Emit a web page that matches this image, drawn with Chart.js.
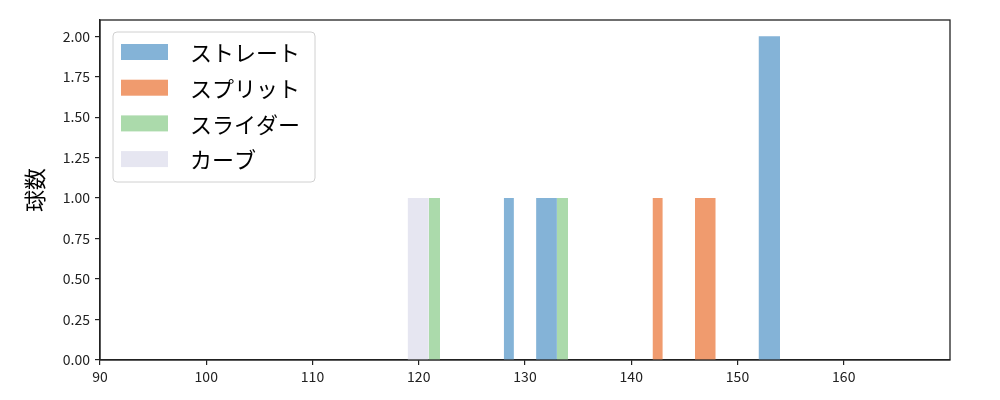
<!DOCTYPE html>
<html>
<head>
<meta charset="utf-8">
<script src="https://cdn.jsdelivr.net/npm/chart.js@4"></script>
<style>
  html, body { margin: 0; padding: 0; background: #fff; }
  #wrap { width: 1000px; height: 400px; }
</style>
</head>
<body>
<div id="wrap"><canvas id="chart" width="1000" height="400"></canvas></div>
<script>
const FONT = '"Noto Sans CJK JP", "Noto Sans", sans-serif';

// histogram bins: left edge, right edge, count
const pitchNames = ['ストレート', 'スプリット', 'スライダー', 'カーブ'];
const straightLo = [128.0, 131.05, 152.0];
const straightHi = [128.95, 133.0, 154.0];
const straightCount = [1, 1, 2];
const splitLo = [142.0, 146.0];
const splitHi = [142.95, 147.95];
const splitCount = [1, 1];
const sliderLo = [120.95, 133.0];
const sliderHi = [122.0, 134.05];
const sliderCount = [1, 1];
const curveLo = [118.95];
const curveHi = [120.95];
const curveCount = [1];
const colors = ['#84b3d7', '#f09b6e', '#abdaab', '#e6e6f1'];

const xTicks = [90, 100, 110, 120, 130, 140, 150, 160];
const yTicks = [0, 0.25, 0.5, 0.75, 1.0, 1.25, 1.5, 1.75, 2.0];

function outline(lo, hi, counts) {
  let pts = [];
  for (let i = 0; i < lo.length; i++) {
    pts.push({x: lo[i], y: 0}, {x: lo[i], y: counts[i]}, {x: hi[i], y: counts[i]}, {x: hi[i], y: 0});
  }
  return pts;
}

const series = [
  outline(straightLo, straightHi, straightCount),
  outline(splitLo, splitHi, splitCount),
  outline(sliderLo, sliderHi, sliderCount),
  outline(curveLo, curveHi, curveCount)
];

const datasets = series.map((pts, i) => ({
  label: pitchNames[i],
  data: pts,
  showLine: true,
  fill: 'origin',
  backgroundColor: colors[i],
  borderColor: 'transparent',
  borderWidth: 0,
  pointRadius: 0,
  tension: 0
}));

// frame round the plot and a matplotlib-like legend box
const framePlugin = {
  id: 'frame',
  afterDraw(chart) {
    const c = chart.ctx;
    const a = chart.chartArea;
    c.save();
    c.strokeStyle = '#222';
    c.lineWidth = 1.3;
    c.strokeRect(a.left, a.top, a.right - a.left, a.bottom - a.top);

    // legend
    const lx = 113, ly = 32, lw = 202, lh = 150, r = 4;
    c.beginPath();
    c.moveTo(lx + r, ly);
    c.arcTo(lx + lw, ly, lx + lw, ly + lh, r);
    c.arcTo(lx + lw, ly + lh, lx, ly + lh, r);
    c.arcTo(lx, ly + lh, lx, ly, r);
    c.arcTo(lx, ly, lx + lw, ly, r);
    c.closePath();
    c.fillStyle = 'rgba(255,255,255,0.8)';
    c.fill();
    c.strokeStyle = '#d0d0d0';
    c.lineWidth = 1;
    c.stroke();

    c.font = '22px ' + FONT;
    c.textBaseline = 'middle';
    c.textAlign = 'left';
    pitchNames.forEach((name, i) => {
      const cy = 52 + i * 35.7;
      c.fillStyle = colors[i];
      c.fillRect(121, cy - 8, 47, 16);
      c.fillStyle = '#000';
      c.fillText(name, 190, cy + 1);
    });
    c.restore();
  }
};

const ctx = document.getElementById('chart').getContext('2d');

new Chart(ctx, {
  type: 'scatter',
  data: { datasets: datasets },
  options: {
    responsive: false,
    animation: false,
    events: [],
    layout: { padding: { left: 0, right: 50, top: 20, bottom: 0 } },
    plugins: {
      legend: { display: false },
      tooltip: { enabled: false }
    },
    scales: {
      x: {
        type: 'linear',
        min: 90,
        max: 170,
        afterBuildTicks: (scale) => { scale.ticks = xTicks.map(v => ({value: v})); },
        afterFit: (scale) => { scale.height = 40; },
        grid: { drawOnChartArea: false, drawTicks: true, tickLength: 5, color: '#222', lineWidth: 1.2 },
        border: { display: true, color: '#222', width: 1.3 },
        ticks: { color: '#222', font: { family: FONT, size: 14 }, padding: 3, maxRotation: 0 }
      },
      y: {
        min: 0,
        max: 2.1,
        afterBuildTicks: (scale) => { scale.ticks = yTicks.map(v => ({value: v})); },
        afterFit: (scale) => { scale.width = 100; },
        grid: { drawOnChartArea: false, drawTicks: true, tickLength: 5, color: '#222', lineWidth: 1.2 },
        border: { display: true, color: '#222', width: 1.3 },
        ticks: {
          color: '#222',
          font: { family: FONT, size: 14 },
          padding: 5,
          callback: (v) => Number(v).toFixed(2)
        },
        title: {
          display: true,
          text: '球数',
          color: '#000',
          font: { family: FONT, size: 22 },
          padding: { top: 21, bottom: 0 }
        }
      }
    }
  },
  plugins: [framePlugin]
});
</script>
</body>
</html>
